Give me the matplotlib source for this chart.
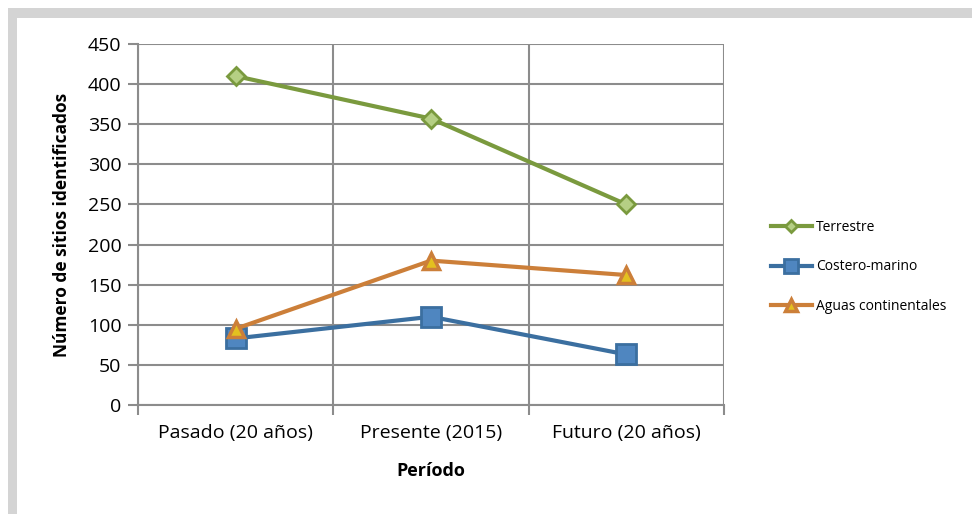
import matplotlib.pyplot as plt
from matplotlib.patches import Rectangle

periodos = ["Pasado (20 años)", "Presente (2015)", "Futuro (20 años)"]
terrestre = [410, 357, 250]
costero = [83, 110, 63]
aguas = [95, 180, 162]

plt.rcParams['font.family'] = ['Open Sans', 'DejaVu Sans']

fig = plt.figure(figsize=(9.72, 5.14), dpi=100)
# marco gris de la figura
fig.patches.append(Rectangle((8/972, 0), 964/972, 1 - 8/514, transform=fig.transFigure,
                             facecolor='#d4d4d4', edgecolor='none', zorder=-2))
fig.patches.append(Rectangle((17/972, 0), 955/972, 1 - 18/514, transform=fig.transFigure,
                             facecolor='white', edgecolor='none', zorder=-1))

ax = fig.add_axes([138/972, 1 - 405/514, (724 - 138)/972, (405 - 44)/514])
x = range(len(periodos))

ax.plot(x, terrestre, color='#7a9a3e', lw=3, marker='D', ms=9,
        mfc='#b5cf84', mec='#7a9a3e', mew=2, label='Terrestre', zorder=5)
ax.plot(x, costero, color='#3b6fa0', lw=3, marker='s', ms=15,
        mfc='#4f86c0', mec='#3b6fa0', mew=2, label='Costero-marino', zorder=4)
ax.plot(x, aguas, color='#cc7f39', lw=3, marker='^', ms=12,
        mfc='#e3c020', mec='#cc7f39', mew=2.5, label='Aguas continentales', zorder=6)

ax.set_xlim(-0.5, 2.5)
ax.set_ylim(0, 450)
ax.set_yticks(range(0, 451, 50))
ax.set_xticks([-0.5, 0.5, 1.5, 2.5])
ax.set_xticklabels([])
ax.set_xticks(list(x), minor=True)
ax.set_xticklabels(periodos, minor=True)
ax.tick_params(axis='x', which='minor', length=0, pad=14, labelsize=14)
ax.tick_params(axis='x', which='major', length=7, color='#8c8c8c', width=1.5)
ax.tick_params(axis='y', length=7, color='#8c8c8c', width=1.5, labelsize=14, pad=5)

ax.grid(True, axis='y', color='#8c8c8c', lw=1.5)
ax.grid(True, axis='x', which='major', color='#8c8c8c', lw=1.5)
ax.set_axisbelow(True)
for s in ['top', 'right']:
    ax.spines[s].set_visible(False)
for s in ['left', 'bottom']:
    ax.spines[s].set_color('#8c8c8c')
    ax.spines[s].set_linewidth(1.5)

ax.set_ylabel('Número de sitios identificados', fontsize=12.5, fontweight='bold', labelpad=12)
ax.set_xlabel('Período', fontsize=13, fontweight='bold', labelpad=14)

ax.legend(loc='center left', bbox_to_anchor=(758/972, 1 - 267/514),
          bbox_transform=fig.transFigure, frameon=False,
          fontsize=10, handlelength=3.0, handletextpad=0.3,
          labelspacing=1.75, markerscale=0.7)

fig.savefig('out.png', dpi=100)
